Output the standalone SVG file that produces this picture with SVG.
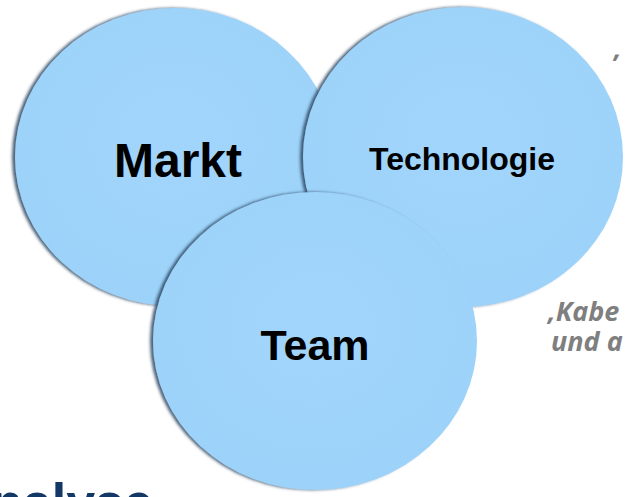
<svg xmlns="http://www.w3.org/2000/svg" width="625" height="497" viewBox="0 0 625 497">
<defs>
<filter id="sh" x="-10%" y="-10%" width="120%" height="120%">
<feGaussianBlur in="SourceAlpha" stdDeviation="1.6" result="b"/>
<feOffset in="b" dx="-3" dy="0" result="o"/>
<feFlood flood-color="#2a4560" flood-opacity="0.85"/>
<feComposite in2="o" operator="in" result="s"/>
<feMerge><feMergeNode in="s"/><feMergeNode in="SourceGraphic"/></feMerge>
</filter>
<radialGradient id="g" cx="0.5" cy="0.45" r="0.6">
<stop offset="0" stop-color="#A2D5FB"/>
<stop offset="1" stop-color="#9CD2F9"/>
</radialGradient>
</defs>
<style>
.c{fill:url(#g);filter:url(#sh)}
.l{font-family:"Liberation Sans",Arial,sans-serif;font-weight:bold;fill:#000;text-anchor:middle}
.q{font-family:"Open Sans","Liberation Sans",sans-serif;font-weight:bold;font-style:italic;fill:#7f7f7f;font-size:27px}
</style>
<rect width="625" height="497" fill="#fff"/>
<g id="markt">
<ellipse class="c" cx="175" cy="157" rx="160" ry="149"/>
<text class="l" x="178" y="177" font-size="48">Markt</text>
</g>
<g id="technologie">
<ellipse class="c" cx="463" cy="157" rx="160" ry="150"/>
<text class="l" x="462" y="170" font-size="32">Technologie</text>
</g>
<g id="team">
<ellipse class="c" cx="315" cy="341" rx="162" ry="149"/>
<text class="l" x="315" y="360" font-size="43">Team</text>
</g>
<g id="connectors"/>
<text class="q" x="614" y="58">,</text>
<text class="q" x="548" y="321">,Kabe</text>
<text class="q" x="551" y="351">und a</text>
<text x="-9" y="520" font-family="'Liberation Sans',Arial,sans-serif" font-weight="bold" font-size="52" fill="#133866">nalyse</text>
</svg>
